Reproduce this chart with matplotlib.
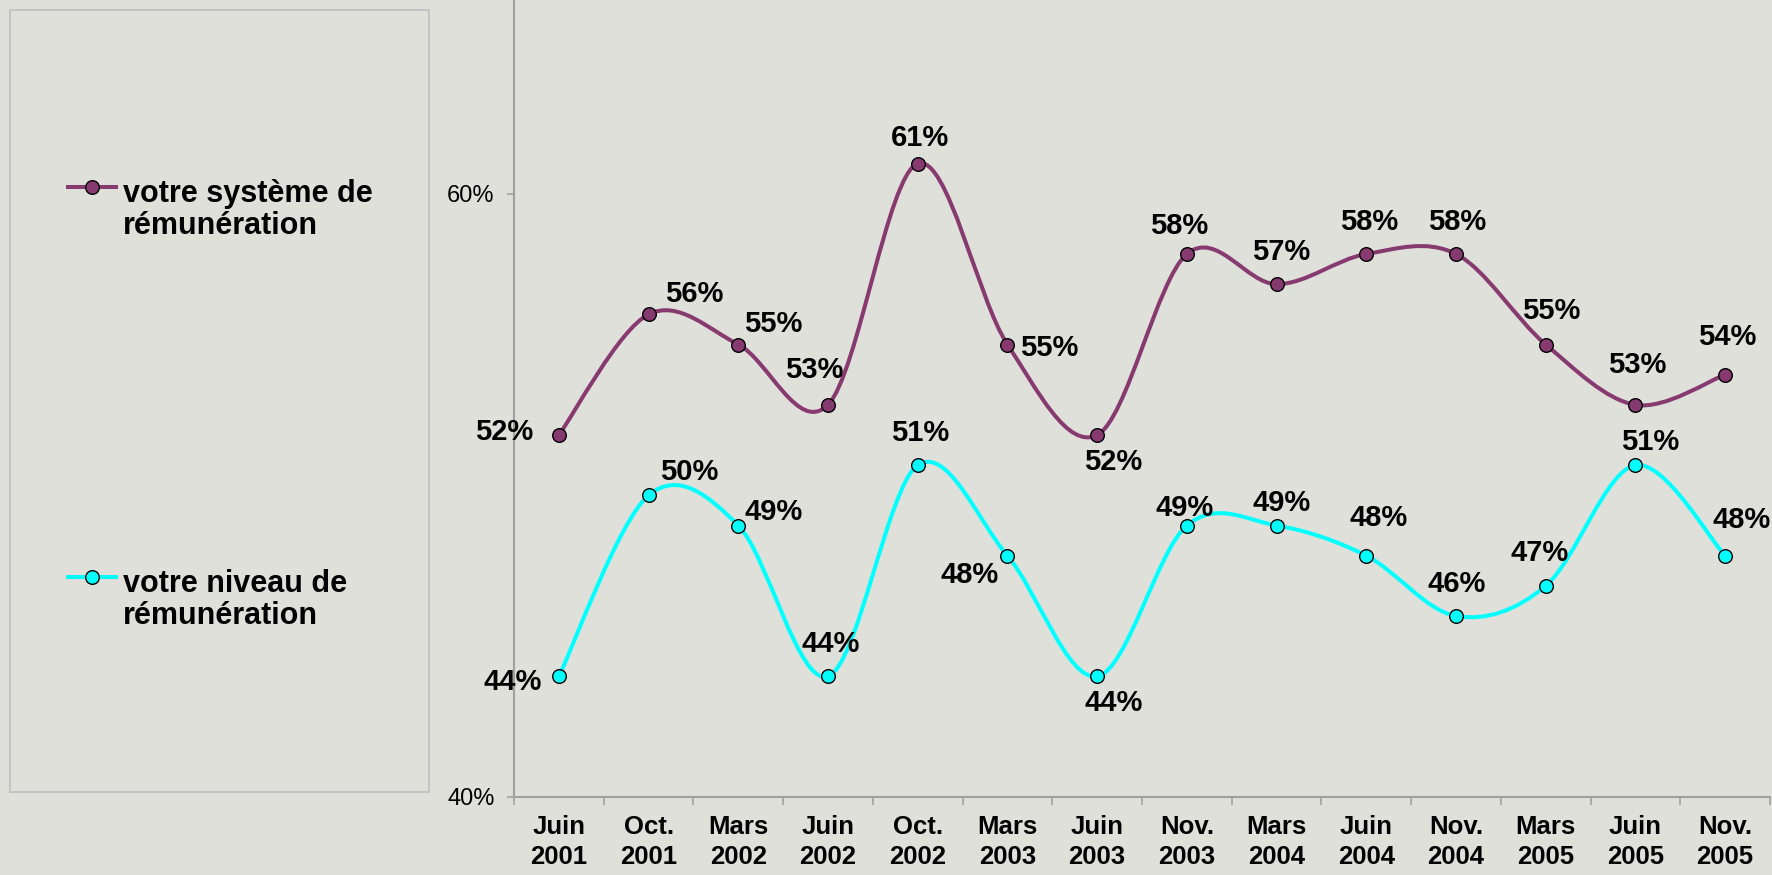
import matplotlib
matplotlib.use("Agg")
import matplotlib.pyplot as plt
from matplotlib.path import Path
from matplotlib.patches import PathPatch, Rectangle
from matplotlib.lines import Line2D
from matplotlib.ticker import FixedLocator, NullFormatter, FuncFormatter
import numpy as np

plt.rcParams['font.family'] = ['Liberation Sans', 'DejaVu Sans']

# ---------------- data ----------------
categories = ["Juin\n2001", "Oct.\n2001", "Mars\n2002", "Juin\n2002", "Oct.\n2002",
              "Mars\n2003", "Juin\n2003", "Nov.\n2003", "Mars\n2004", "Juin\n2004",
              "Nov.\n2004", "Mars\n2005", "Juin\n2005", "Nov.\n2005"]
systeme = [0.52, 0.56, 0.55, 0.53, 0.61, 0.55, 0.52, 0.58, 0.57, 0.58, 0.58, 0.55, 0.53, 0.54]
niveau = [0.44, 0.50, 0.49, 0.44, 0.51, 0.48, 0.44, 0.49, 0.49, 0.48, 0.46, 0.47, 0.51, 0.48]
series_names = ["votre système de\nrémunération", "votre niveau de\nrémunération"]
yticks = [0.40, 0.60]

# ---------------- styles / positions ----------------
BG = "#E0E0DB"
PURPLE = "#873A6F"
CYAN = "#00FFFF"
# label offsets in pixels (dx, dy) relative to the point
off_sys = [(-55, 3), (46, 20), (35, 21), (-14, 35), (2, 26), (42, -3), (16, -27),
           (-8, 28), (5, 32), (3, 32), (1, 32), (6, 34), (2, 40), (2, 38)]
off_niv = [(-46, -6), (41, 23), (35, 14), (3, 32), (2, 32), (-38, -19), (17, -27),
           (-2, 18), (5, 23), (12, 38), (1, 32), (-6, 33), (15, 23), (16, 36)]

W, H = 1772, 875
fig = plt.figure(figsize=(W / 100, H / 100), dpi=100, facecolor=BG)
ax = fig.add_axes([514 / W, (H - 797) / H, (1770 - 514) / W, 797 / H])
ax.set_facecolor(BG)

x = np.arange(len(categories))
ax.set_xlim(-0.5, len(categories) - 0.5)
ax.set_ylim(0.40, 0.6642)


def smooth_path(xs, ys):
    pts = np.column_stack([xs, ys]).astype(float)
    n = len(pts)
    verts = [pts[0]]
    codes = [Path.MOVETO]
    for i in range(n - 1):
        p0 = pts[i - 1] if i > 0 else pts[i]
        p1 = pts[i]
        p2 = pts[i + 1]
        p3 = pts[i + 2] if i + 2 < n else pts[i + 1]
        c1 = p1 + (p2 - p0) / 6.0
        c2 = p2 - (p3 - p1) / 6.0
        verts += [c1, c2, p2]
        codes += [Path.CURVE4] * 3
    return Path(verts, codes)


for vals, col, offs in [(systeme, PURPLE, off_sys), (niveau, CYAN, off_niv)]:
    patch = PathPatch(smooth_path(x, vals), facecolor="none", edgecolor=col,
                      lw=2.9, zorder=2, capstyle="round", joinstyle="round")
    ax.add_patch(patch)
    ax.plot(x, vals, linestyle="none", marker="o", markersize=9.8,
            markerfacecolor=col, markeredgecolor="black", markeredgewidth=1.0, zorder=3)
    for xi, v, (dx, dy) in zip(x, vals, offs):
        ax.annotate(f"{round(v * 100)}%", (xi, v), xytext=(dx, dy),
                    textcoords="offset pixels", ha="center", va="center",
                    fontsize=21, fontweight="bold", color="black", zorder=4)

# spines
for s in ["top", "right"]:
    ax.spines[s].set_visible(False)
for s in ["left", "bottom"]:
    ax.spines[s].set_color("#A0A0A0")
    ax.spines[s].set_linewidth(1.5)

# y axis
ax.yaxis.set_major_locator(FixedLocator(yticks))
ax.yaxis.set_major_formatter(FuncFormatter(lambda v, p: f"{round(v * 100)}%"))
ax.tick_params(axis="y", which="major", direction="out", length=5, width=1.2,
               color="#A0A0A0", labelsize=17, pad=9, labelcolor="black")

# x axis: boundaries as major ticks, labels at centers
ax.xaxis.set_major_locator(FixedLocator(np.arange(len(categories) + 1) - 0.5))
ax.xaxis.set_major_formatter(NullFormatter())
ax.xaxis.set_minor_locator(FixedLocator(x))
ax.set_xticklabels(categories, minor=True)
ax.tick_params(axis="x", which="major", direction="out", length=6, width=1.2, color="#A0A0A0")
ax.tick_params(axis="x", which="minor", length=0, pad=13, labelsize=18.5)
for t in ax.get_xticklabels(minor=True):
    t.set_fontweight("bold")
    t.set_linespacing(1.3)

# legend box (drawn manually)
fig.patches.append(Rectangle((10 / W, (H - 792) / H), 419 / W, 782 / H,
                             transform=fig.transFigure, facecolor=BG,
                             edgecolor="#C4C4C4", lw=1.5, zorder=0))
entries = [(series_names[0], PURPLE, 187), (series_names[1], CYAN, 577)]
for name, col, ym in entries:
    yf = (H - ym) / H
    fig.lines.append(Line2D([68 / W, 116 / W], [yf, yf], transform=fig.transFigure,
                            color=col, lw=2.9))
    fig.lines.append(Line2D([92 / W], [yf], transform=fig.transFigure, marker="o",
                            markersize=9.8, markerfacecolor=col, markeredgecolor="black",
                            markeredgewidth=1.0, linestyle="none"))
    l1, l2 = name.split("\n")
    fig.text(123 / W, (H - (ym + 15)) / H, l1, fontsize=22, fontweight="bold",
             ha="left", va="baseline")
    fig.text(123 / W, (H - (ym + 47)) / H, l2, fontsize=22, fontweight="bold",
             ha="left", va="baseline")

fig.savefig("out.png", dpi=100, facecolor=BG)
